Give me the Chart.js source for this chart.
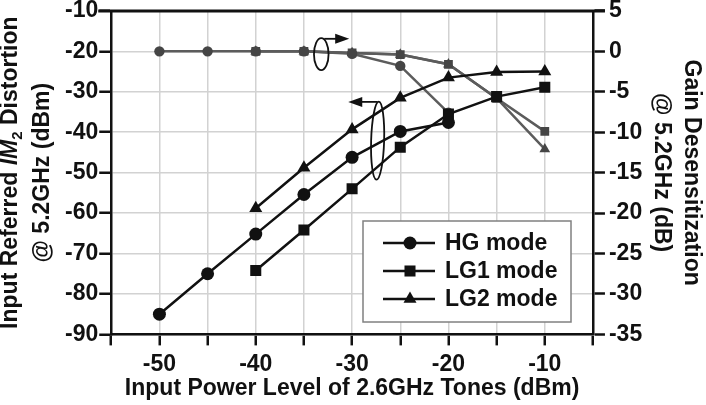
<!DOCTYPE html>
<html>
<head>
<meta charset="utf-8">
<script src="https://cdn.jsdelivr.net/npm/chart.js@4.4.0/dist/chart.umd.min.js"></script>
<style>
    html, body { margin: 0; padding: 0; background: #fff; }
</style>
</head>
<body>
<canvas id="myChart" width="706" height="405"></canvas>
<script>
// data
const inputPower = [-50, -45, -40, -35, -30, -25, -20, -15, -10];
const xLabels = [-50, -40, -30, -20, -10];

// input referred IM2 distortion (dBm), left axis
const hgIM2 = [-85, -75, -65.2, -55.4, -46.2, -39.8, -37.6, null, null];
const lg1IM2 = [null, null, -74.2, -64.2, -54, -43.7, -35.5, -31.2, -28.9];
const lg2IM2 = [null, null, -58.8, -48.8, -39.3, -31.5, -26.5, -25.1, -25];

// gain desensitization (dB), right axis
const hgGain = [0, 0, 0, 0, -0.3, -1.8, -7.6, null, null];
const lg1Gain = [null, null, 0, 0, -0.2, -0.4, -1.6, -5.8, -9.9];
const lg2Gain = [null, null, 0, 0, -0.2, -0.4, -1.6, -5.8, -12.1];

const legendLabels = ['HG mode', 'LG1 mode', 'LG2 mode'];
const xTitle = 'Input Power Level of 2.6GHz Tones (dBm)';

const FONT = '"Liberation Sans", Arial, sans-serif';
const BLACK = '#111';
const GRAY_LINE = '#5c5c5c';
const GRAY_MARK = '#454545';

const pts = (vals) => inputPower.map((x, i) => ({ x: x, y: vals[i] }));

const black = (label, vals, style, r) => ({
    label: label,
    data: pts(vals),
    yAxisID: 'y',
    borderColor: BLACK,
    backgroundColor: BLACK,
    borderWidth: 2.5,
    pointStyle: style,
    pointRadius: r,
    pointBorderWidth: 0,
    spanGaps: false,
    order: 0,
});

const gray = (vals, style, r) => ({
    label: '',
    data: pts(vals),
    yAxisID: 'y2',
    borderColor: GRAY_LINE,
    backgroundColor: GRAY_MARK,
    borderWidth: 2.5,
    pointStyle: style,
    pointRadius: r,
    pointBorderWidth: 0,
    order: 1,
});

// top frame line + ellipse/arrow marks + boxed legend + axis titles
const extras = {
    id: 'extras',
    afterDraw(chart) {
        const { ctx, chartArea: a, scales } = chart;
        const sx = scales.x, sy = scales.y, sy2 = scales.y2;
        ctx.save();

        // top frame
        ctx.strokeStyle = BLACK;
        ctx.lineWidth = 3;
        ctx.beginPath();
        ctx.moveTo(a.left - 13, a.top);
        ctx.lineTo(a.right + 12, a.top);
        ctx.stroke();

        // ellipse + arrow (which axis each group belongs to)
        const arrow = (x0, x1, y) => {
            const dir = Math.sign(x1 - x0);
            ctx.beginPath();
            ctx.moveTo(x0, y);
            ctx.lineTo(x1 - dir * 12, y);
            ctx.stroke();
            ctx.beginPath();
            ctx.moveTo(x1, y);
            ctx.lineTo(x1 - dir * 14, y - 5);
            ctx.lineTo(x1 - dir * 14, y + 5);
            ctx.closePath();
            ctx.fill();
        };
        ctx.lineWidth = 1.8;
        ctx.strokeStyle = BLACK;
        ctx.fillStyle = BLACK;

        let cx = sx.getPixelForValue(-33.2), cy = sy2.getPixelForValue(-0.35);
        ctx.beginPath();
        ctx.ellipse(cx, cy, 7.3, 16, 0, 0, Math.PI * 2);
        ctx.stroke();
        arrow(cx + 3, sx.getPixelForValue(-30.3), sy2.getPixelForValue(1.55));

        cx = sx.getPixelForValue(-27.35);
        cy = sy.getPixelForValue(-42.1);
        ctx.beginPath();
        ctx.ellipse(cx, cy, 6.5, 39, 0.03, 0, Math.PI * 2);
        ctx.stroke();
        arrow(cx, sx.getPixelForValue(-30.4), sy.getPixelForValue(-32.5));

        // legend
        const lx = 363, ly = 221, lw = 208, lh = 101;
        ctx.fillStyle = '#fff';
        ctx.fillRect(lx, ly, lw, lh);
        ctx.strokeStyle = '#808080';
        ctx.lineWidth = 1.5;
        ctx.strokeRect(lx, ly, lw, lh);
        ctx.font = 'bold 23px ' + FONT;
        ctx.textBaseline = 'middle';
        legendLabels.forEach((text, i) => {
            const ds = chart.data.datasets[i];
            const y = 243 + i * 28;
            ctx.strokeStyle = BLACK;
            ctx.lineWidth = 2.5;
            ctx.beginPath();
            ctx.moveTo(383, y);
            ctx.lineTo(435, y);
            ctx.stroke();
            ctx.fillStyle = BLACK;
            Chart.helpers.drawPoint(ctx, { pointStyle: ds.pointStyle, radius: ds.pointRadius, borderWidth: 0 }, 410, y);
            ctx.fillStyle = BLACK;
            ctx.fillText(text, 445, y + 1);
        });

        // x axis title
        ctx.fillStyle = BLACK;
        ctx.textAlign = 'center';
        ctx.fillText(xTitle, (a.left + a.right) / 2, 389);

        // left axis title, with italic IM and subscript 2
        const mid = (a.top + a.bottom) / 2;
        const parts = [
            ['bold 23px ' + FONT, 'Input Referred ', 0],
            ['italic bold 23px ' + FONT, 'IM', 0],
            ['bold 15px ' + FONT, '2', 5],
            ['bold 23px ' + FONT, ' Distortion', 0],
        ];
        let total = 0;
        parts.forEach((p) => { ctx.font = p[0]; total += ctx.measureText(p[1]).width; });
        ctx.textAlign = 'left';
        ctx.textBaseline = 'alphabetic';
        ctx.translate(17, mid);
        ctx.rotate(-Math.PI / 2);
        let px = -total / 2;
        parts.forEach((p) => {
            ctx.font = p[0];
            ctx.fillText(p[1], px, p[2]);
            px += ctx.measureText(p[1]).width;
        });
        ctx.font = 'bold 23px ' + FONT;
        ctx.textAlign = 'center';
        ctx.fillText('@ 5.2GHz (dBm)', 0, 32);
        ctx.restore();
    },
};

const xTickFont = { family: FONT, weight: 'bold', size: 23, lineHeight: 1.2 };
const yTickFont = { family: FONT, weight: 'bold', size: 23, lineHeight: 0.6 };

new Chart(document.getElementById('myChart'), {
    type: 'line',
    data: {
        datasets: [
            black(legendLabels[0], hgIM2, 'circle', 6.5),
            black(legendLabels[1], lg1IM2, 'rect', 7.8),
            black(legendLabels[2], lg2IM2, 'triangle', 7.5),
            gray(hgGain, 'circle', 5.2),
            gray(lg1Gain, 'rect', 6.2),
            gray(lg2Gain, 'triangle', 6.2),
        ],
    },
    options: {
        responsive: false,
        animation: false,
        layout: { padding: { left: 64, right: 0, top: 0, bottom: 22 } },
        plugins: {
            legend: { display: false },
            tooltip: { enabled: false },
        },
        scales: {
            x: {
                type: 'linear',
                min: -55,
                max: -5,
                border: { color: BLACK, width: 2.5 },
                grid: { color: '#d2d2d2', lineWidth: 1.5, tickLength: 11, tickColor: BLACK, tickWidth: 2.5 },
                ticks: {
                    stepSize: 5,
                    autoSkip: false,
                    maxRotation: 0,
                    padding: 5,
                    color: BLACK,
                    font: xTickFont,
                    callback: (v) => (xLabels.includes(v) ? String(v) : ''),
                },
            },
            y: {
                position: 'left',
                min: -90,
                max: -10,
                border: { color: BLACK, width: 2.5 },
                grid: { color: '#d2d2d2', lineWidth: 1.5, tickLength: 12, tickColor: BLACK, tickWidth: 2.5 },
                ticks: { stepSize: 10, padding: 1, color: BLACK, font: yTickFont },
            },
            y2: {
                position: 'right',
                min: -35,
                max: 5,
                border: { color: BLACK, width: 2.5 },
                grid: { drawOnChartArea: false, tickLength: 12, tickColor: BLACK, tickWidth: 2.5 },
                ticks: { stepSize: 5, padding: 4, color: BLACK, font: yTickFont },
                title: {
                    display: true,
                    text: ['Gain Desensitization', '@ 5.2GHz (dB)'],
                    color: BLACK,
                    font: { family: FONT, weight: 'bold', size: 23, lineHeight: 1.3 },
                    padding: { top: 0, bottom: 0 },
                },
            },
        },
    },
    plugins: [extras],
});
</script>
</body>
</html>
